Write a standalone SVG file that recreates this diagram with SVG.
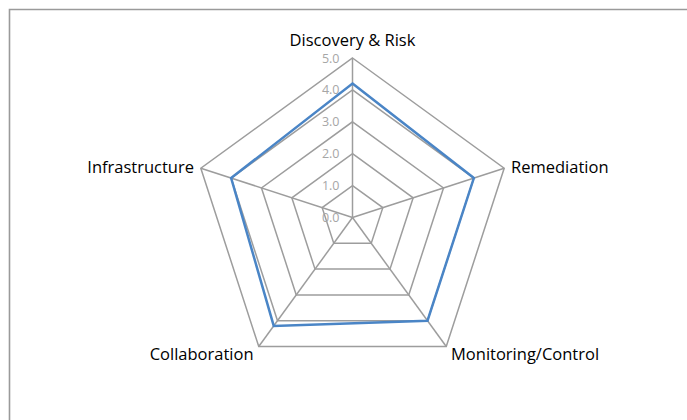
<svg xmlns="http://www.w3.org/2000/svg" width="687" height="420" viewBox="0 0 687 420">
<style>
.grid{fill:none;stroke:#9d9d9d;stroke-width:1.5;stroke-linejoin:miter}
.data{fill:none;stroke:#4a85c6;stroke-width:2.5;stroke-linejoin:miter}
.lbl{font-family:"Open Sans","Liberation Sans",Arial,sans-serif;font-size:16.5px;fill:#000}
.tick{font-family:"Open Sans","Liberation Sans",Arial,sans-serif;font-size:12.5px;fill:#a6a6a6;text-anchor:end}
</style>
<rect x="0" y="0" width="687" height="420" fill="#fff"/>
<path d="M9.5 420 V9.5 H687" fill="none" stroke="#9a9a9a" stroke-width="1.6"/>
<g id="grid">
<polygon class="grid" points="352.5,185.6 382.84,207.64 371.25,243.31 333.75,243.31 322.16,207.64"/>
<polygon class="grid" points="352.5,153.7 413.18,197.78 390,269.12 315,269.12 291.82,197.78"/>
<polygon class="grid" points="352.5,121.8 443.52,187.93 408.75,294.92 296.25,294.92 261.48,187.93"/>
<polygon class="grid" points="352.5,89.9 473.86,178.07 427.5,320.73 277.5,320.73 231.14,178.07"/>
<polygon class="grid" points="352.5,58 504.19,168.21 446.25,346.54 258.75,346.54 200.81,168.21"/>
</g>
<g id="ticks">
<text class="tick" x="339.5" y="62.5">5.0</text>
<text class="tick" x="339.5" y="94.4">4.0</text>
<text class="tick" x="339.5" y="126.3">3.0</text>
<text class="tick" x="339.5" y="158.2">2.0</text>
<text class="tick" x="339.5" y="190.1">1.0</text>
<text class="tick" x="339.5" y="222.3">0.0</text>
</g>
<g id="connectors">
<line class="grid" x1="352.5" y1="217.5" x2="352.5" y2="58"/>
<line class="grid" x1="352.5" y1="217.5" x2="504.19" y2="168.21"/>
<line class="grid" x1="352.5" y1="217.5" x2="446.25" y2="346.54"/>
<line class="grid" x1="352.5" y1="217.5" x2="258.75" y2="346.54"/>
<line class="grid" x1="352.5" y1="217.5" x2="200.81" y2="168.21"/>
</g>
<g id="series">
<polygon class="data" points="352.5,83.5 473.86,178.07 427.5,320.73 273.75,325.89 231.14,178.07"/>
</g>
<g id="node-discovery"><text class="lbl" x="352.5" y="46" text-anchor="middle">Discovery &amp; Risk</text></g>
<g id="node-remediation"><text class="lbl" x="511" y="172.7">Remediation</text></g>
<g id="node-monitoring"><text class="lbl" x="451" y="360">Monitoring/Control</text></g>
<g id="node-collaboration"><text class="lbl" x="253.5" y="359.5" text-anchor="end">Collaboration</text></g>
<g id="node-infrastructure"><text class="lbl" x="194" y="172.7" text-anchor="end">Infrastructure</text></g>
</svg>
